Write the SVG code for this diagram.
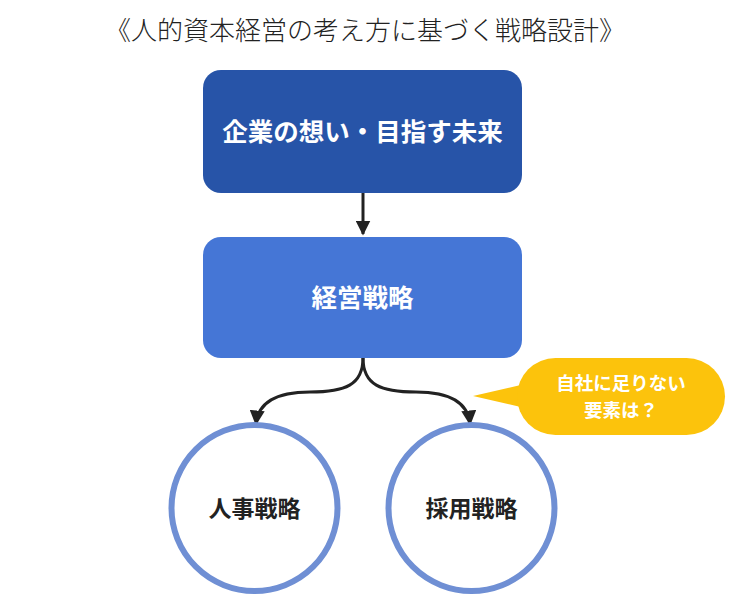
<svg xmlns="http://www.w3.org/2000/svg" width="742" height="611" viewBox="0 0 742 611">
<defs>
<style>
.t{font-family:"Noto Sans CJK JP","Noto Sans CJK SC",sans-serif;}
.title{font-size:26px;font-weight:300;fill:#222;}
.wb{font-size:25.5px;font-weight:bold;fill:#fff;}
.cb{font-size:23px;font-weight:bold;fill:#222;}
.bub{font-size:18.5px;font-weight:bold;fill:#fff;}
.conn{fill:none;stroke:#222;stroke-width:3;}
.circ{fill:#fff;stroke:#6f8fd4;stroke-width:6;}
</style>
<marker id="ah" viewBox="0 0 10 10" refX="9" refY="5" markerWidth="5" markerHeight="5" markerUnits="strokeWidth" orient="auto">
<path d="M0,0 L10,5 L0,10 Z" fill="#222"/>
</marker>
</defs>
<rect width="742" height="611" fill="#fff"/>
<text class="t title" x="365" y="40" text-anchor="middle">《人的資本経営の考え方に基づく戦略設計》</text>
<g id="connectors">
<line class="conn" x1="363" y1="193" x2="363" y2="234" marker-end="url(#ah)"/>
<path class="conn" d="M363,358 C363,385 345,392 310,392 C278,392 258,402 256,424" marker-end="url(#ah)"/>
<path class="conn" d="M363,358 C363,385 381,392 416,392 C448,392 468,402 470,424" marker-end="url(#ah)"/>
</g>
<g id="node-vision">
<rect x="203" y="70" width="319" height="123" rx="18" fill="#2754a8"/>
<text class="t wb" x="362.5" y="141" text-anchor="middle">企業の想い・目指す未来</text>
</g>
<g id="node-management">
<rect x="203" y="237" width="319" height="121" rx="18" fill="#4576d6"/>
<text class="t wb" x="362.5" y="307" text-anchor="middle">経営戦略</text>
</g>
<g id="node-hr">
<circle class="circ" cx="254.5" cy="508" r="83"/>
<text class="t cb" x="254.5" y="517" text-anchor="middle">人事戦略</text>
</g>
<g id="node-recruit">
<circle class="circ" cx="471.5" cy="508" r="83"/>
<text class="t cb" x="471.5" y="517" text-anchor="middle">採用戦略</text>
</g>
<g id="node-bubble">
<path d="M473,396 L525,384 L525,408 Z" fill="#fcc30c"/>
<rect x="517" y="358" width="208" height="77" rx="38.5" fill="#fcc30c"/>
<text class="t bub" x="621" y="390" text-anchor="middle">自社に足りない</text>
<text class="t bub" x="621" y="417" text-anchor="middle">要素は？</text>
</g>
</svg>
